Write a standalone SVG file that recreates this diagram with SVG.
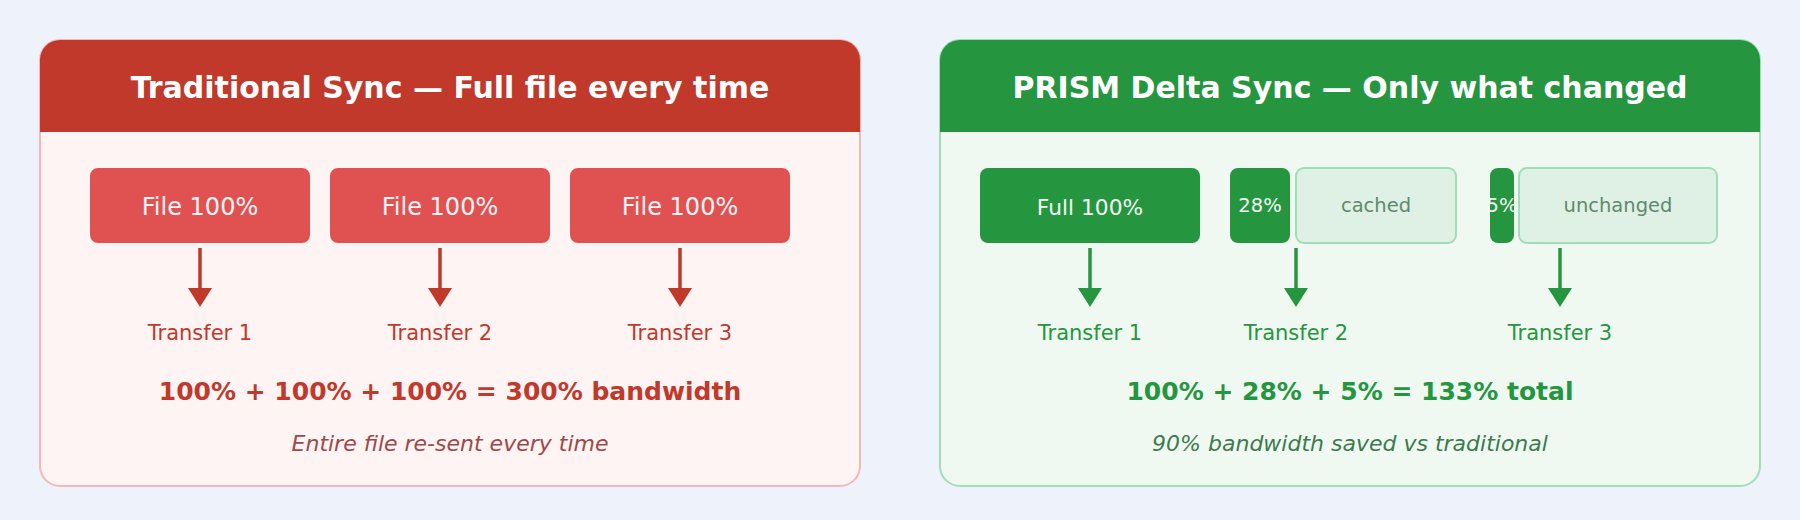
<svg xmlns="http://www.w3.org/2000/svg" width="1800" height="520" viewBox="0 0 1800 520">
  <defs>
    <style>
      text { font-family: "DejaVu Sans", "Liberation Sans", sans-serif; text-anchor: middle; }
      .title { font-size: 30px; font-weight: bold; fill: #ffffff; }
      .boxtxt { font-size: 24px; fill: #fff4f4; }
      .fulltxt { font-size: 21.75px; fill: #f2fbf4; }
      .smalltxt { font-size: 19.5px; fill: #f2fbf4; }
      .cachedtxt { font-size: 19.5px; fill: #5e8a6c; }
      .lbl-r { font-size: 21px; fill: #c0392b; }
      .lbl-g { font-size: 21px; fill: #25963f; }
      .sum-r { font-size: 25px; font-weight: bold; fill: #c0392b; }
      .sum-g { font-size: 25px; font-weight: bold; fill: #25963f; }
      .note-r { font-size: 22px; font-style: italic; fill: #a0474a; }
      .note-g { font-size: 22px; font-style: italic; fill: #3d7a4d; }
      .arrow-r { stroke: #c0392b; stroke-width: 3.5; fill: none; }
      .arrow-g { stroke: #25963f; stroke-width: 3.5; fill: none; }
    </style>
    <marker id="headR" markerUnits="userSpaceOnUse" markerWidth="20" markerHeight="24" viewBox="0 0 20 24" refX="0" refY="12" orient="auto">
      <path d="M0,0 L19,12 L0,24 Z" fill="#c0392b"/>
    </marker>
    <marker id="headG" markerUnits="userSpaceOnUse" markerWidth="20" markerHeight="24" viewBox="0 0 20 24" refX="0" refY="12" orient="auto">
      <path d="M0,0 L19,12 L0,24 Z" fill="#25963f"/>
    </marker>
  </defs>

  <rect x="0" y="0" width="1800" height="520" fill="#eef3fb"/>

  <!-- Left panel -->
  <g id="panel-traditional">
    <rect x="40" y="40" width="820" height="446" rx="20" fill="#fff4f4" stroke="#f5b7b7" stroke-width="2"/>
    <path d="M40,132 V60 A20,20 0 0 1 60,40 H840 A20,20 0 0 1 860,60 V132 Z" fill="#c0392b"/>
    <text class="title" x="450" y="98">Traditional Sync — Full file every time</text>
  </g>
  <g id="trad-file-1">
    <rect x="90" y="168" width="220" height="75" rx="8" fill="#e05252"/>
    <text class="boxtxt" x="200" y="215">File 100%</text>
  </g>
  <g id="trad-file-2">
    <rect x="330" y="168" width="220" height="75" rx="8" fill="#e05252"/>
    <text class="boxtxt" x="440" y="215">File 100%</text>
  </g>
  <g id="trad-file-3">
    <rect x="570" y="168" width="220" height="75" rx="8" fill="#e05252"/>
    <text class="boxtxt" x="680" y="215">File 100%</text>
  </g>
  <g id="trad-transfer-1"><text class="lbl-r" x="200" y="340">Transfer 1</text></g>
  <g id="trad-transfer-2"><text class="lbl-r" x="440" y="340">Transfer 2</text></g>
  <g id="trad-transfer-3"><text class="lbl-r" x="680" y="340">Transfer 3</text></g>
  <g id="trad-summary">
    <text class="sum-r" x="450" y="400">100% + 100% + 100% = 300% bandwidth</text>
    <text class="note-r" x="450" y="451">Entire file re-sent every time</text>
  </g>

  <!-- Right panel -->
  <g id="panel-prism">
    <rect x="940" y="40" width="820" height="446" rx="20" fill="#eff9f2" stroke="#a3dcb8" stroke-width="2"/>
    <path d="M940,132 V60 A20,20 0 0 1 960,40 H1740 A20,20 0 0 1 1760,60 V132 Z" fill="#25963f"/>
    <text class="title" x="1350" y="98">PRISM Delta Sync — Only what changed</text>
  </g>
  <g id="prism-full">
    <rect x="980" y="168" width="220" height="75" rx="8" fill="#25963f"/>
    <text class="fulltxt" x="1090" y="215">Full 100%</text>
  </g>
  <g id="prism-delta-28">
    <rect x="1230" y="168" width="60" height="75" rx="8" fill="#25963f"/>
    <text class="smalltxt" x="1260" y="212">28%</text>
  </g>
  <g id="prism-cached">
    <rect x="1296" y="168" width="160" height="75" rx="8" fill="#dff0e5" stroke="#a3dcb8" stroke-width="2"/>
    <text class="cachedtxt" x="1376" y="212">cached</text>
  </g>
  <g id="prism-delta-5">
    <rect x="1490" y="168" width="24" height="75" rx="8" fill="#25963f"/>
    <text class="smalltxt" x="1502" y="212">5%</text>
  </g>
  <g id="prism-unchanged">
    <rect x="1519" y="168" width="198" height="75" rx="8" fill="#dff0e5" stroke="#a3dcb8" stroke-width="2"/>
    <text class="cachedtxt" x="1618" y="212">unchanged</text>
  </g>
  <g id="prism-transfer-1"><text class="lbl-g" x="1090" y="340">Transfer 1</text></g>
  <g id="prism-transfer-2"><text class="lbl-g" x="1296" y="340">Transfer 2</text></g>
  <g id="prism-transfer-3"><text class="lbl-g" x="1560" y="340">Transfer 3</text></g>
  <g id="prism-summary">
    <text class="sum-g" x="1350" y="400">100% + 28% + 5% = 133% total</text>
    <text class="note-g" x="1350" y="451">90% bandwidth saved vs traditional</text>
  </g>

  <!-- Connectors -->
  <g id="connectors">
    <line class="arrow-r" x1="200" y1="248" x2="200" y2="288" marker-end="url(#headR)"/>
    <line class="arrow-r" x1="440" y1="248" x2="440" y2="288" marker-end="url(#headR)"/>
    <line class="arrow-r" x1="680" y1="248" x2="680" y2="288" marker-end="url(#headR)"/>
    <line class="arrow-g" x1="1090" y1="248" x2="1090" y2="288" marker-end="url(#headG)"/>
    <line class="arrow-g" x1="1296" y1="248" x2="1296" y2="288" marker-end="url(#headG)"/>
    <line class="arrow-g" x1="1560" y1="248" x2="1560" y2="288" marker-end="url(#headG)"/>
  </g>
</svg>
